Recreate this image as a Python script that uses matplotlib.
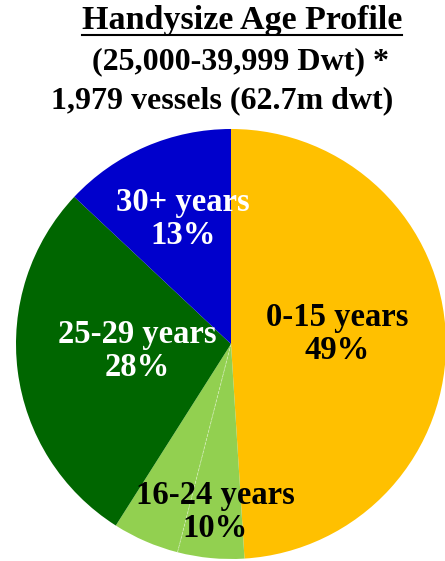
import numpy as np
import matplotlib.pyplot as plt
from matplotlib.lines import Line2D

labels = ['0-15 years', '16-24 years', '', '25-29 years', '30+ years']
pcts = ['49%', '10%', '', '28%', '13%']
values = [49, 5, 5, 28, 13]
colors = ['#FFC000', '#92D050', '#92D050', '#006600', '#0000CC']
text_colors = ['black', 'black', 'black', 'white', 'white']

W, H = 445, 561
fig = plt.figure(figsize=(W / 100, H / 100), dpi=100)
ax = fig.add_axes([0, 0, 1, 1])

cx, cy, r = 231, H - 344, 215
wedges, _ = ax.pie(values, colors=colors, startangle=90, counterclock=False,
                   center=(cx, cy), radius=r, frame=True,
                   wedgeprops=dict(linewidth=0))
ax.set_xlim(0, W)
ax.set_ylim(0, H)
ax.axis('off')

# faint split inside the light green slice
th = np.deg2rad(wedges[2].theta2)
ax.plot([cx, cx + r * np.cos(th)], [cy, cy + r * np.sin(th)],
        color='white', lw=0.6, ls='--', alpha=0.45)

font = dict(family='Liberation Serif', weight='bold')
label_pos = [(337, 334), (215, 512), None, (137, 351), (183, 219)]
for lab, p, pos, c in zip(labels, pcts, label_pos, text_colors):
    if pos is None:
        continue
    ax.text(pos[0], H - pos[1], lab + '\n' + p, ha='center', va='center',
            color=c, fontsize=23.5, linespacing=1.05, **font)

t1 = fig.text(242 / W, 1 - 21 / H, 'Handysize Age Profile', ha='center',
              va='center', fontsize=24.5, **font)
fig.text(241 / W, 1 - 62 / H, '(25,000-39,999 Dwt) *', ha='center',
         va='center', fontsize=23, **font)
fig.text(222 / W, 1 - 101 / H, '1,979 vessels (62.7m dwt)', ha='center',
         va='center', fontsize=23, **font)

# underline the first title line
fig.canvas.draw()
bb = t1.get_window_extent().transformed(fig.transFigure.inverted())
fig.add_artist(Line2D([bb.x0, bb.x1], [1 - 35 / H, 1 - 35 / H],
                      color='black', linewidth=1.5, transform=fig.transFigure))

fig.savefig('out.png', dpi=100)
